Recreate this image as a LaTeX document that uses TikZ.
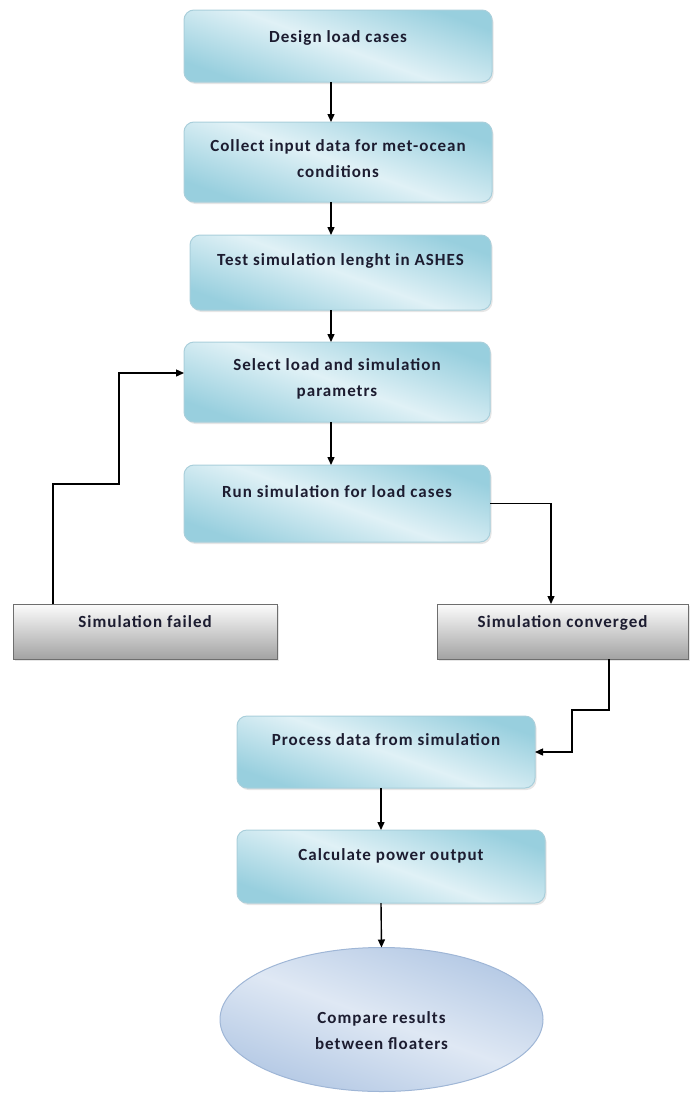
\documentclass[tikz,border=0pt]{standalone}
\usepackage{fontspec}
\setmainfont{Carlito}[LetterSpace=6]
\usetikzlibrary{arrows.meta,shapes.geometric,shadows}
\definecolor{boxdark}{HTML}{98CFDE}
\definecolor{boxlight}{HTML}{E0F1F6}
\definecolor{boxline}{HTML}{A9CFDB}
\definecolor{greytop}{HTML}{FCFCFC}
\definecolor{greybot}{HTML}{A3A3A3}
\definecolor{greyline}{HTML}{6E6E6E}
\definecolor{elldark}{HTML}{B3C8E4}
\definecolor{elllight}{HTML}{DFE8F4}
\definecolor{ellline}{HTML}{9FB6D6}
\definecolor{textdark}{HTML}{1C1C30}
\begin{document}
\begin{tikzpicture}[x=1pt,y=-1pt,
        >={Triangle[length=8pt,width=7pt]},
        every node/.style={font=\bfseries\fontsize{17}{26}\selectfont,
            text=textdark,align=center,inner xsep=2pt,inner ysep=0pt,outer sep=0pt},
        flowbox/.style={anchor=north,draw=boxline,line width=1pt,rounded corners=10pt,
            top color=boxdark,bottom color=boxdark,middle color=boxlight,shading angle=-20,
            drop shadow={opacity=0.2,shadow xshift=1.5pt,shadow yshift=-2pt}},
        greybox/.style={anchor=north,draw=greyline,line width=1pt,
            top color=greytop,bottom color=greybot,
            drop shadow={opacity=0.2,shadow xshift=1.5pt,shadow yshift=-2pt}},
        endell/.style={ellipse,draw=ellline,line width=1pt,
            top color=elldark,bottom color=elldark,middle color=elllight,shading angle=-20,
            minimum width=323pt,minimum height=144pt},
        link/.style={->,line width=1.4pt,black}]
    \useasboundingbox (0,0) rectangle (689,1095);
    \node[flowbox,minimum width=308pt,text height=32pt,text depth=40pt] (design) at (338,10) {Design load cases};
    \node[flowbox,minimum width=308pt,text height=55pt,text depth=25pt] (collect) at (338,122)
        {Collect input data for met-ocean\\conditions};
    \node[flowbox,minimum width=301pt,text height=30pt,text depth=45pt] (test) at (340.5,235)
        {Test simulation lenght in ASHES};
    \node[flowbox,minimum width=306pt,text height=54pt,text depth=26pt] (select) at (337,342)
        {Select load and simulation\\parametrs};
    \node[flowbox,minimum width=306pt,text height=32pt,text depth=45pt] (run) at (337,465)
        {Run simulation for load cases};
    \node[greybox,minimum width=264pt,text height=23pt,text depth=32pt] (failed) at (145,604) {Simulation failed};
    \node[greybox,minimum width=251pt,text height=23pt,text depth=32pt] (conv) at (562.5,604) {Simulation converged};
    \node[flowbox,minimum width=298pt,text height=29pt,text depth=43pt] (process) at (386,716)
        {Process data from simulation};
    \node[flowbox,minimum width=308pt,text height=30pt,text depth=43pt] (calc) at (391,830)
        {Calculate power output};
    \node[endell,text height=64pt,text depth=4pt] (compare) at (381.5,1019.5) {Compare results\\between floaters};

    \coordinate (mainx) at (331,0);
    \coordinate (lowx) at (381,0);
    \coordinate (failbend) at (119,484);
    \coordinate (convbend) at (572,710);
    \draw[link] (design.south -| mainx) -- (collect.north -| mainx);
    \draw[link] (collect.south -| mainx) -- (test.north -| mainx);
    \draw[link] (test.south -| mainx) -- (select.north -| mainx);
    \draw[link] (select.south -| mainx) -- (run.north -| mainx);
    \draw[link] (run.east) -| ([xshift=-11.5pt]conv.north);
    \draw[link] ([xshift=-92pt]failed.north) |- (failbend) |- ([yshift=9pt]select.west);
    \draw[link] ([xshift=46.5pt]conv.south) |- (convbend) |- (process.east);
    \draw[link] (process.south -| lowx) -- (calc.north -| lowx);
    \draw[link] (calc.south -| lowx) -- (compare.north);
\end{tikzpicture}
\end{document}
